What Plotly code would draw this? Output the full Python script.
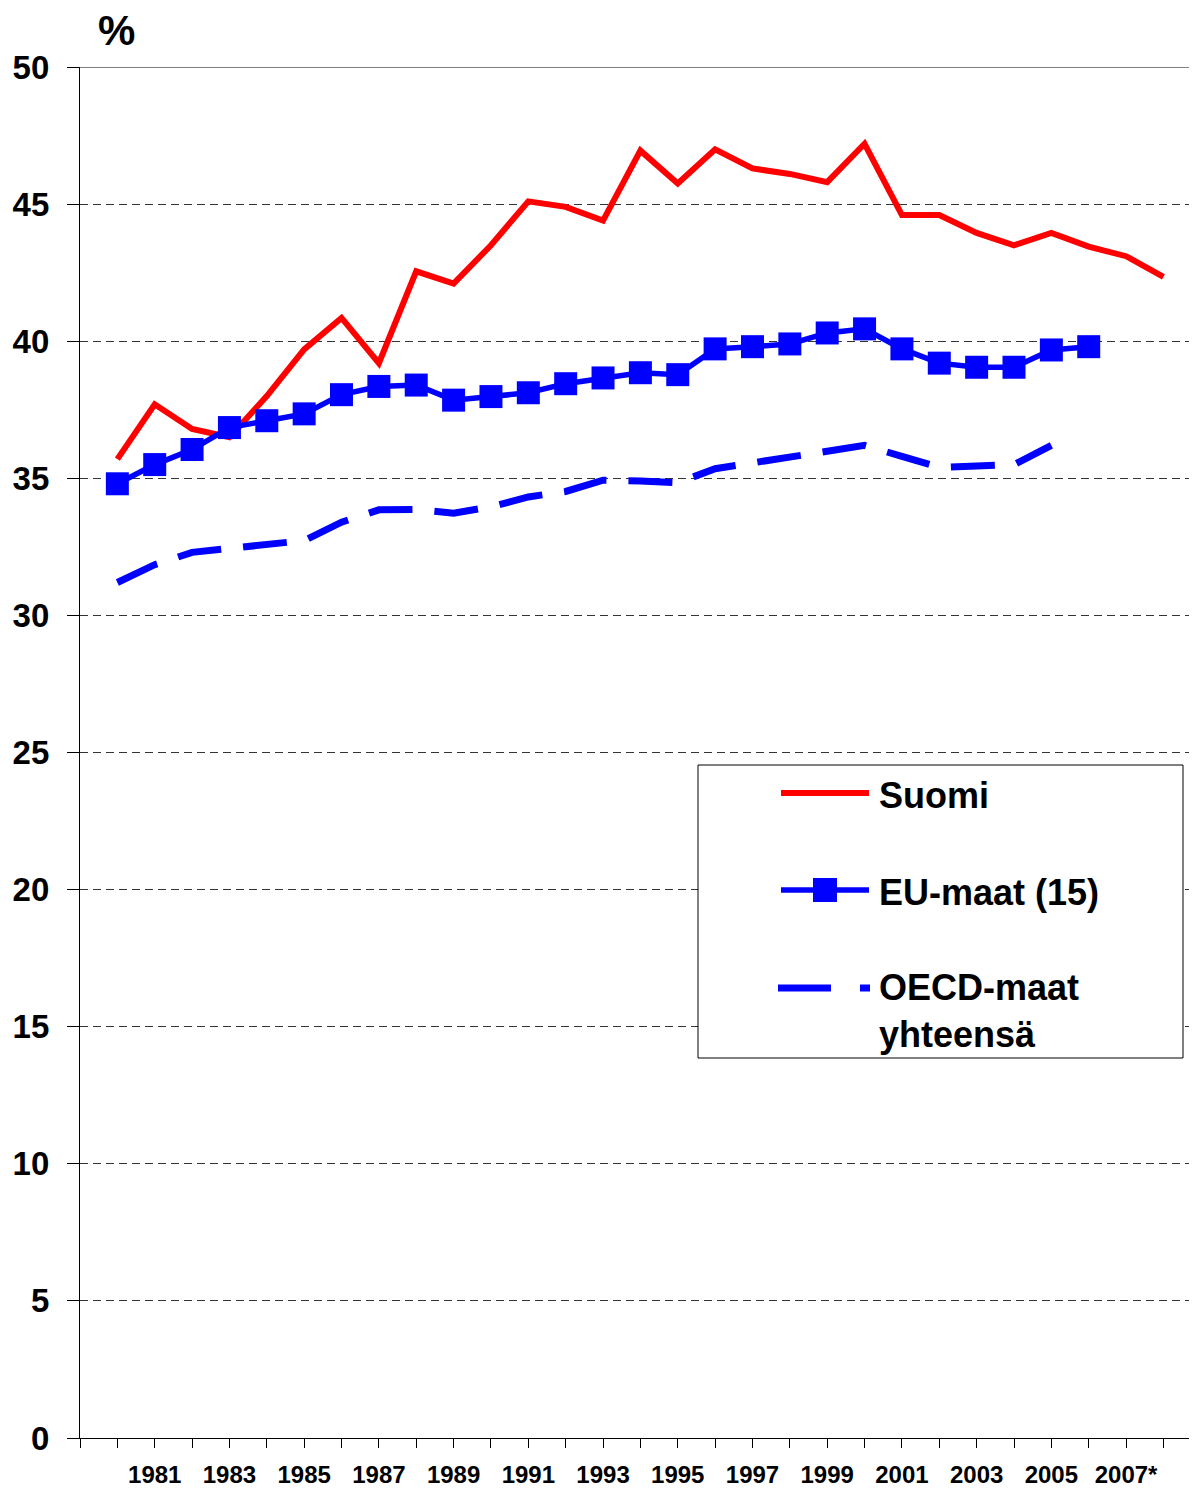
import plotly.graph_objects as go

# ---------------- data ----------------
years_suomi = list(range(1980, 2009))
suomi = [35.7, 37.7, 36.8, 36.5, 38.0, 39.7, 40.85, 39.2, 42.55, 42.1, 43.5, 45.1,
         44.9, 44.4, 46.95, 45.75, 47.0, 46.3, 46.1, 45.8, 47.2, 44.6, 44.6, 43.95,
         43.5, 43.95, 43.45, 43.1, 42.35]

years_eu = list(range(1980, 2007))
eu = [34.8, 35.5, 36.05, 36.85, 37.1, 37.35, 38.05, 38.35, 38.4, 37.85, 37.98, 38.12,
      38.45, 38.66, 38.85, 38.78, 39.72, 39.8, 39.9, 40.3, 40.45, 39.72, 39.2, 39.05,
      39.05, 39.68, 39.8]

years_oecd = list(range(1980, 2006))
oecd = [31.2, 31.85, 32.3, 32.45, 32.64, 32.73, 33.4, 33.85, 33.86, 33.73, 33.96, 34.32,
        34.52, 34.93, 34.9, 34.84, 35.35, 35.57, 35.75, 36.02, 36.2, 35.8, 35.4, 35.45,
        35.5, 36.2]

series_names = ["Suomi", "EU-maat (15)", "OECD-maat<br>yhteensä"]

tick_years = list(range(1979, 2009))
tick_labels = {y: str(y) for y in range(1981, 2006, 2)}
tick_labels[2007] = "2007*"
tick_text = [tick_labels.get(y, "") for y in tick_years]

y_ticks = list(range(0, 51, 5))

# ---------------- figure ----------------
# the page adds an 8px body margin, so the figure is 8px smaller and shifted
OFF = 8
W, H = 1197 - OFF, 1488 - OFF
ML, MR, MT, MB = 80 - OFF, 0, 67 - OFF, 50
PW, PH = W - ML - MR, H - MT - MB

FONT = "Liberation Sans, Arial, sans-serif"
RED = "#FF0000"
BLUE = "#0000FF"

fig = go.Figure()

fig.add_trace(go.Scatter(
    x=years_suomi, y=suomi, mode="lines", name="Suomi",
    line=dict(color=RED, width=6), showlegend=False))

fig.add_trace(go.Scatter(
    x=years_oecd, y=oecd, mode="lines", name="OECD-maat yhteensä",
    line=dict(color=BLUE, width=7, dash="44px,22px"), showlegend=False))

fig.add_trace(go.Scatter(
    x=years_eu, y=eu, mode="lines+markers", name="EU-maat (15)",
    line=dict(color=BLUE, width=5.5),
    marker=dict(symbol="square", size=23, color=BLUE, line=dict(width=0)),
    showlegend=False))


# helpers: screen pixel (in the 1197x1488 window) -> paper coordinates
def px_x(px):
    return (px - OFF - ML) / PW


def px_y(py):
    return (OFF + H - MB - py) / PH


shapes = []
# top border (solid line at 50)
shapes.append(dict(type="line", xref="paper", yref="y", x0=0, x1=1, y0=50, y1=50,
                   line=dict(color="black", width=1.2)))

# custom legend box
shapes.append(dict(type="rect", xref="paper", yref="paper",
                   x0=px_x(698), x1=px_x(1183), y0=px_y(1058), y1=px_y(765),
                   line=dict(color="black", width=1), fillcolor="white", layer="above"))
# Suomi sample
shapes.append(dict(type="line", xref="paper", yref="paper",
                   x0=px_x(781), x1=px_x(869), y0=px_y(793), y1=px_y(793),
                   line=dict(color=RED, width=6), layer="above"))
# EU sample
shapes.append(dict(type="line", xref="paper", yref="paper",
                   x0=px_x(781), x1=px_x(869), y0=px_y(890), y1=px_y(890),
                   line=dict(color=BLUE, width=5.5), layer="above"))
shapes.append(dict(type="rect", xref="paper", yref="paper",
                   x0=px_x(813), x1=px_x(837), y0=px_y(902), y1=px_y(878),
                   line=dict(width=0), fillcolor=BLUE, layer="above"))
# OECD sample
shapes.append(dict(type="line", xref="paper", yref="paper",
                   x0=px_x(778), x1=px_x(870), y0=px_y(988), y1=px_y(988),
                   line=dict(color=BLUE, width=7, dash="53px,29px"), layer="above"))

annotations = []
annotations.append(dict(text="%", xref="paper", yref="paper", x=px_x(116), y=px_y(31),
                        xanchor="center", yanchor="middle", showarrow=False,
                        font=dict(family=FONT, size=42, color="black", weight="bold")))
legend_pos = [(795, series_names[0]), (892, series_names[1]), (1011, series_names[2])]
for py, txt in legend_pos:
    annotations.append(dict(text=txt, xref="paper", yref="paper", x=px_x(877), y=px_y(py),
                            xanchor="left", yanchor="middle", align="left", showarrow=False,
                            font=dict(family=FONT, size=36, color="black", weight="bold")))

fig.update_layout(
    width=W, height=H,
    margin=dict(l=ML, r=MR, t=MT, b=MB, pad=0, autoexpand=False),
    paper_bgcolor="white", plot_bgcolor="white",
    font=dict(family=FONT, color="black"),
    shapes=shapes, annotations=annotations,
    showlegend=False,
    xaxis=dict(
        range=[1979, 1979 + PW / 37.36],
        tickmode="array", tickvals=tick_years, ticktext=tick_text,
        ticks="outside", ticklen=9, tickwidth=1, tickcolor="black",
        showline=True, linecolor="black", linewidth=1.2,
        showgrid=False, zeroline=False, automargin=False,
        tickangle=0, ticklabelstandoff=6,
        tickfont=dict(family=FONT, size=24, color="black", weight="bold"),
    ),
    yaxis=dict(
        range=[0, 50],
        tickmode="array", tickvals=y_ticks,
        ticks="outside", ticklen=12, tickwidth=1, tickcolor="black",
        showline=True, linecolor="black", linewidth=1.2,
        showgrid=True, gridcolor="#333333", gridwidth=1, griddash="8px,5px",
        zeroline=False, automargin=False,
        ticklabelstandoff=11,
        tickfont=dict(family=FONT, size=33, color="black", weight="bold"),
    ),
)

fig.write_html("out.html")
